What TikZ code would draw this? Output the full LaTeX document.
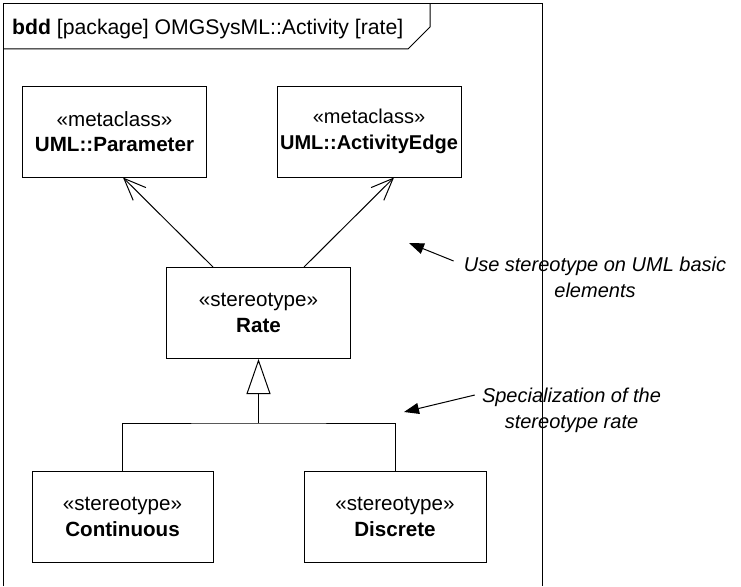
\documentclass[tikz,border=0pt]{standalone}
\usepackage{fontspec}
\setmainfont{Liberation Sans}
\usetikzlibrary{arrows.meta}
\begin{document}
\begin{tikzpicture}[x=1pt,y=-1pt]
	\tikzstyle{every node}=[font=\fontsize{20.6pt}{25.5pt}\selectfont]
	\tikzstyle{block}=[draw, line width=1pt, align=center, minimum width=184pt, minimum height=91pt, inner sep=0pt]
	\tikzstyle{note}=[font=\fontsize{20pt}{26pt}\selectfont\itshape, align=center, inner sep=0pt]
	\tikzstyle{extend}=[line width=1pt, -{Straight Barb[length=22pt,width=18pt]}]
	\tikzstyle{general}=[line width=1pt, -{Triangle[open,length=35pt,width=24pt,fill=white]}]
	\tikzstyle{pointer}=[line width=1pt, -{Triangle[length=15pt,width=11pt]}]
	
	\useasboundingbox (0,0) rectangle (741,586);
	
	% frame and heading tab
	\draw[line width=1pt] (3,586) -- (3,4) -- (542,4) -- (542,586);
	\draw[line width=1pt] (3,49) -- (408,49) -- (430,27) -- (430,4);
	\node[anchor=base west, inner sep=0pt, font=\fontsize{21.2pt}{26pt}\selectfont] (heading) at (12,35) {\textbf{bdd} [package] OMGSysML::Activity [rate]};
	
	% metaclasses
	\node[block] (param) at (114.5,131.5) {«metaclass»\\\textbf{UML::Parameter}};
	\node[block, font=\fontsize{20pt}{25.5pt}\selectfont] (edge) at (369,131.5) {«metaclass»\\\textbf{UML::ActivityEdge}};
	
	% stereotypes
	\node[block] (rate) at (258.5,313) {«stereotype»\\\textbf{Rate}};
	\node[block, minimum width=181pt] (cont) at (122.5,517) {«stereotype»\\\textbf{Continuous}};
	\node[block, minimum width=182pt] (disc) at (395,517) {«stereotype»\\\textbf{Discrete}};
	
	\draw[extend] ([xshift=-45.5pt]rate.north) -- ([xshift=8.5pt]param.south);
	\draw[extend] ([xshift=45.5pt]rate.north) -- ([xshift=25pt]edge.south);
	
	\coordinate (split) at (258.5,423);
	\draw[line width=1pt] (cont.north) |- (split) -| (disc.north);
	\draw[general] (split) -- (rate.south);
	
	% comments
	\node[note] (usenote) at (595,277) {Use stereotype on UML basic\\elements};
	\node[note] (specnote) at (571.5,410) {Specialization of the\\stereotype rate};
	\coordinate (usetip) at (409,243);
	\coordinate (spectip) at (404,412);
	\draw[pointer] ([shift={(-10pt,16pt)}]usenote.west) -- (usetip);
	\draw[pointer] ([shift={(-7pt,15pt)}]specnote.west) -- (spectip);
	
\end{tikzpicture}
\end{document}
